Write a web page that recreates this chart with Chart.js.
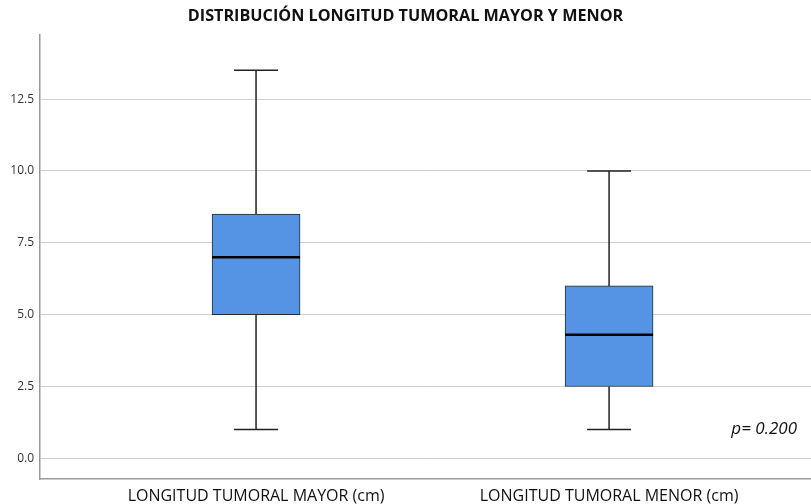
<!DOCTYPE html>
<html>
<head>
<meta charset="utf-8">
<script src="https://cdn.jsdelivr.net/npm/chart.js@4/dist/chart.umd.min.js"></script>
<style>
  body { margin: 0; background: #fff; }
  #wrap { width: 811px; height: 504px; }
</style>
</head>
<body>
<div id="wrap"><canvas id="boxChart" width="811" height="504"></canvas></div>
<script>
// Box plot values
const categories = ['LONGITUD TUMORAL MAYOR (cm)', 'LONGITUD TUMORAL MENOR (cm)'];
const minVals = [1.0, 1.0];
const q1Vals = [5.0, 2.5];
const medianVals = [7.0, 4.3];
const q3Vals = [8.5, 6.0];
const maxVals = [13.5, 10.0];
const yTicks = [0, 2.5, 5.0, 7.5, 10.0, 12.5];
const pLabel = 'p= 0.200';

const fontFamily = '"Open Sans", "DejaVu Sans", sans-serif';

// whiskers, caps and median lines
const boxExtras = {
  id: 'boxExtras',
  afterDatasetsDraw(chart) {
    const ctx = chart.ctx;
    const x = chart.scales.x, y = chart.scales.y;
    const meta = chart.getDatasetMeta(0);
    ctx.save();
    categories.forEach((c, i) => {
      const bar = meta.data[i];
      const cx = x.getPixelForValue(i + 1);
      const half = bar.width / 2;
      const capHalf = half / 2;
      ctx.strokeStyle = '#222';
      ctx.lineWidth = 1.5;
      ctx.beginPath();
      ctx.moveTo(cx, y.getPixelForValue(maxVals[i]));
      ctx.lineTo(cx, y.getPixelForValue(q3Vals[i]));
      ctx.moveTo(cx, y.getPixelForValue(q1Vals[i]));
      ctx.lineTo(cx, y.getPixelForValue(minVals[i]));
      ctx.moveTo(cx - capHalf, y.getPixelForValue(maxVals[i]));
      ctx.lineTo(cx + capHalf, y.getPixelForValue(maxVals[i]));
      ctx.moveTo(cx - capHalf, y.getPixelForValue(minVals[i]));
      ctx.lineTo(cx + capHalf, y.getPixelForValue(minVals[i]));
      ctx.stroke();
      ctx.strokeStyle = '#000';
      ctx.lineWidth = 2.5;
      ctx.beginPath();
      ctx.moveTo(cx - half, y.getPixelForValue(medianVals[i]));
      ctx.lineTo(cx + half, y.getPixelForValue(medianVals[i]));
      ctx.stroke();
    });
    // p value note
    ctx.fillStyle = '#111';
    ctx.font = 'italic 17px ' + fontFamily;
    ctx.textAlign = 'right';
    ctx.textBaseline = 'middle';
    ctx.fillText(pLabel, chart.chartArea.right - 14, y.getPixelForValue(1.0));
    ctx.restore();
  }
};

const ctx = document.getElementById('boxChart').getContext('2d');
new Chart(ctx, {
  type: 'bar',
  data: {
    datasets: [{
      data: categories.map((c, i) => ({ x: i + 1, y: [q1Vals[i], q3Vals[i]] })),
      backgroundColor: '#5594E4',
      borderColor: '#2a2a2a',
      borderWidth: 1,
      borderSkipped: false,
      barThickness: 88
    }]
  },
  options: {
    responsive: false,
    animation: false,
    plugins: {
      legend: { display: false },
      tooltip: { enabled: false },
      title: {
        display: true,
        text: 'DISTRIBUCIÓN LONGITUD TUMORAL MAYOR Y MENOR',
        color: '#111',
        font: { family: fontFamily, size: 16.2, weight: 'bold' },
        padding: { top: 7, bottom: 8 }
      }
    },
    scales: {
      x: {
        type: 'linear',
        offset: false,
        min: 0.388,
        max: 2.572,
        grid: { display: false },
        border: { display: true, color: '#999', width: 1.5 },
        afterBuildTicks: s => { s.ticks = [{ value: 1 }, { value: 2 }]; },
        afterFit: s => { s.height = 25; },
        ticks: {
          color: '#111',
          padding: 0,
          font: { family: fontFamily, size: 16 },
          callback: v => categories[v - 1]
        }
      },
      y: {
        min: -0.72,
        max: 14.75,
        grid: { color: '#cfcfcf', lineWidth: 1, drawTicks: false },
        border: { display: true, color: '#999', width: 1.5 },
        afterBuildTicks: s => { s.ticks = yTicks.map(v => ({ value: v })); },
        afterFit: s => { s.width = 40; },
        ticks: {
          color: '#333',
          padding: 6,
          font: { family: fontFamily, size: 12 },
          callback: v => v.toFixed(1)
        }
      }
    }
  },
  plugins: [boxExtras]
});
</script>
</body>
</html>
